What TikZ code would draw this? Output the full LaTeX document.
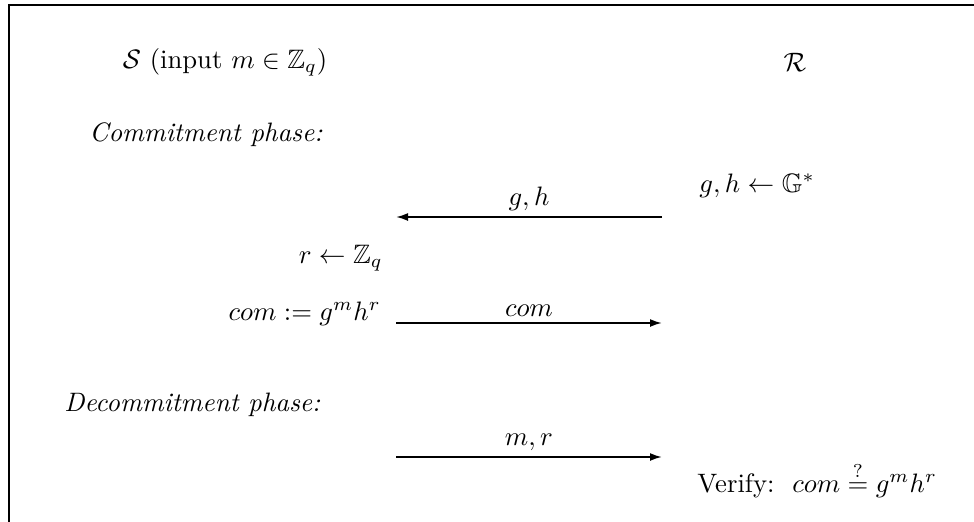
\documentclass[tikz,border=0pt]{standalone}
\usepackage{amsmath,amssymb}
\usetikzlibrary{arrows.meta,positioning}

\begin{document}
\begin{tikzpicture}[x=0.375pt,y=-0.375pt,frame/.style={line width=0.8pt},msg/.style={line width=0.7pt,-{Latex[length=4.5pt,width=3pt]}},lbl/.style={above,inner sep=2pt},lft/.style={anchor=east}]
\useasboundingbox (0,0) rectangle (974,522);
\draw[frame] (9,522)--(9,5)--(974,5);
\node (snd) at (225,62) {$\mathcal{S}$ (input $m\in\mathbb{Z}_q$)};
\node (rcv) at (795,62) {$\mathcal{R}$};
\node[anchor=west] (cphase) at (80,135) {\textit{Commitment phase:}};
\coordinate (ghR) at (662,217);
\coordinate (ghS) at (396,217);
\node[anchor=west] (gen) at (690,186) {$g,h\leftarrow\mathbb{G}^*$};
\node[lft] (rnd) at (392,258) {$r\leftarrow\mathbb{Z}_q$};
\node[lft] (com) at (390,314) {$com:=g^mh^r$};
\coordinate (comS) at (396,323);
\coordinate (comR) at (662,323);
\node[anchor=west] (dphase) at (55,405) {\textit{Decommitment phase:}};
\coordinate (mrS) at (396,457);
\coordinate (mrR) at (662,457);
\node[anchor=west] (vrf) at (688,480) {Verify:\ \ $com\overset{?}{=}g^mh^r$};
\draw[msg] (ghR)--node[lbl]{$g,h$}(ghS);
\draw[msg] (comS)--node[lbl]{$com$}(comR);
\draw[msg] (mrS)--node[lbl]{$m,r$}(mrR);
\end{tikzpicture}
\end{document}
